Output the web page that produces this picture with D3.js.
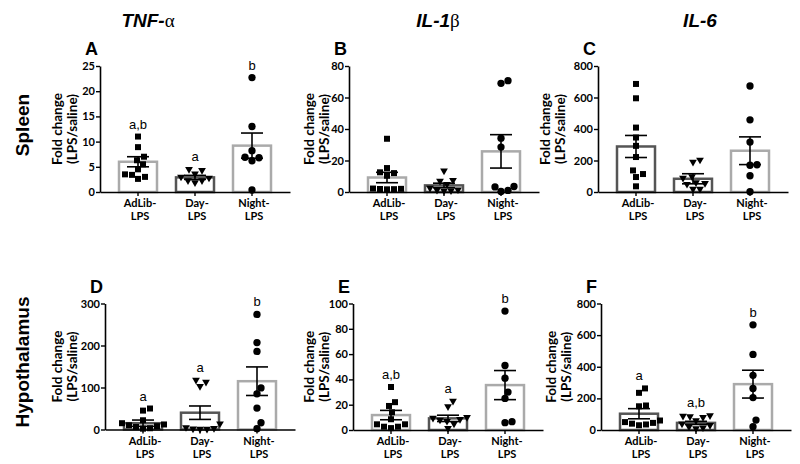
<!DOCTYPE html>
<meta charset="utf-8">
<style>
body { margin: 0; background: #fff; }
text { fill: #000; }
</style>
<body>
<script src="https://cdn.jsdelivr.net/npm/d3@7"></script>
<script>
var width = 800,
    height = 464;

var groups = ["AdLib-LPS", "Day-LPS", "Night-LPS"];
var columnTitles = [["TNF-", "\u03b1"], ["IL-1", "\u03b2"], ["IL-6", ""]];
var rowTitles = ["Spleen", "Hypothalamus"];

// panel A - TNF-a spleen
var pointsA = [[11.0, 8.9, 7.0, 6.3, 5.5, 4.5, 3.5, 3.4, 3.0, 2.6], [4.5, 4.3, 3.6, 3.0, 2.8, 2.3, 2.3, 1.9], [22.7, 13.0, 8.2, 6.9, 6.8, 6.2, 0.4]];
var meanA = [6.0, 2.9, 9.2];
var semA = [1.0, 0.4, 2.5];
var sigA = ["a,b", "a", "b"];
var ticksA = [0, 5, 10, 15, 20, 25];

// panel B - IL-1b spleen
var pointsB = [[33.8, 15.2, 12.5, 12.0, 10.3, 2.2, 2.0, 1.9, 1.8, 1.7], [13.5, 7.5, 7.0, 5.0, 2.5, 1.5, 1.2, 1.0, 0.8], [70.7, 69.0, 34.2, 28.5, 3.5, 3.2, 1.0, 0.3]];
var meanB = [9.2, 4.2, 25.8];
var semB = [3.3, 1.4, 10.6];
var sigB = ["", "", ""];
var ticksB = [0, 20, 40, 60, 80];

// panel C - IL-6 spleen
var pointsC = [[686, 595, 409, 346, 293, 222, 137, 114, 95, 36], [204, 190, 99, 89, 60, 55, 50, 19, 19], [673, 458, 317, 173, 170, 103, 2]];
var meanC = [289, 84, 262];
var semC = [70, 32, 88];
var sigC = ["", "", ""];
var ticksC = [0, 200, 400, 600, 800];

// panel D - TNF-a hypothalamus
var pointsD = [[50, 45, 22, 15, 12, 10, 8, 6, 3, 2], [118, 113, 103, 14, 5, 3, 2, 1, 1], [274, 207, 186, 99, 85, 51, 16, 2]];
var meanD = [15, 40, 115];
var semD = [7.5, 16, 34];
var sigD = ["a", "a", "b"];
var ticksD = [0, 100, 200, 300];

// panel E - IL-1b hypothalamus
var pointsE = [[34, 22, 19, 14, 8.5, 4.5, 4.5, 2.6, 2.6, 1.5], [23, 18.5, 10, 9.5, 8.5, 8, 7, 5, 1.3], [94, 51, 41, 30, 25, 6.6, 5.8]];
var meanE = [11.8, 9.2, 35.5];
var semE = [3.7, 2.5, 11.5];
var sigE = ["a,b", "a", "b"];
var ticksE = [0, 20, 40, 60, 80, 100];

// panel F - IL-6 hypothalamus
var pointsF = [[263, 235, 155, 150, 60, 50, 45, 40, 35, 30], [92, 88, 85, 80, 60, 40, 30, 20, 15, 10], [665, 478, 346, 263, 205, 63, 21]];
var meanF = [103, 45, 290];
var semF = [32, 10, 88];
var sigF = ["a", "a,b", "b"];
var ticksF = [0, 200, 400, 600, 800];

// layout
var panels = [
  {label: "A", pts: pointsA, mean: meanA, sem: semA, sig: sigA, ticks: ticksA, ax: 100, top: 66, bottom: 192, titleX: 58, edge: ["#aaa", "#555", "#aaa"]},
  {label: "B", pts: pointsB, mean: meanB, sem: semB, sig: sigB, ticks: ticksB, ax: 349, top: 66, bottom: 192, titleX: 310, edge: ["#aaa", "#555", "#aaa"]},
  {label: "C", pts: pointsC, mean: meanC, sem: semC, sig: sigC, ticks: ticksC, ax: 598, top: 66, bottom: 192, titleX: 546, edge: ["#555", "#555", "#aaa"]},
  {label: "D", pts: pointsD, mean: meanD, sem: semD, sig: sigD, ticks: ticksD, ax: 105, top: 303.5, bottom: 429.5, titleX: 58, edge: ["#555", "#555", "#aaa"]},
  {label: "E", pts: pointsE, mean: meanE, sem: semE, sig: sigE, ticks: ticksE, ax: 353, top: 303.5, bottom: 430, titleX: 310, edge: ["#aaa", "#555", "#aaa"]},
  {label: "F", pts: pointsF, mean: meanF, sem: semF, sig: sigF, ticks: ticksF, ax: 601, top: 303.5, bottom: 430, titleX: 552, edge: ["#555", "#555", "#aaa"]}
];
var symbols = [
  d3.symbol().type(d3.symbolSquare).size(36),
  d3.symbol().type(d3.symbolTriangle).size(26),
  d3.symbol().type(d3.symbolCircle).size(42)
];

var svg = d3.select("body").append("svg")
    .attr("width", width)
    .attr("height", height);

var headX = [148, 438, 700];
columnTitles.forEach(function(t, i) {
  var tx = svg.append("text")
      .attr("x", headX[i]).attr("y", 27)
      .attr("text-anchor", "middle")
      .style("font-family", "Liberation Sans, Arial")
      .style("font-size", "19px").style("font-weight", "bold").style("font-style", "italic");
  tx.append("tspan").text(t[0]);
  if (t[1]) tx.append("tspan").text(t[1])
      .style("font-family", "Liberation Serif, serif").style("font-weight", "normal").style("font-style", "normal");
});

var rowY = [125, 362];
rowTitles.forEach(function(t, i) {
  svg.append("text")
      .attr("transform", "translate(29," + rowY[i] + ") rotate(-90)")
      .attr("text-anchor", "middle")
      .style("font-family", "Liberation Sans, Arial")
      .style("font-size", "19px").style("font-weight", "bold")
      .text(t);
});

// simple beeswarm offsets so markers do not overlap
function swarm(ys, d) {
  var placed = [], xs = [];
  ys.map(function(y, i) { return i; })
    .sort(function(a, b) { return ys[b] - ys[a]; })
    .forEach(function(i) {
      for (var k = 0; k < 60; k++) {
        var off = (k % 2 ? 1 : -1) * Math.ceil(k / 2);
        var hit = placed.some(function(p) {
          var dx = p[0] - off, dy = p[1] - ys[i];
          return dx * dx + dy * dy < d * d;
        });
        if (!hit) break;
      }
      placed.push([off, ys[i]]);
      xs[i] = off;
    });
  return xs;
}

panels.forEach(function(p) {
  var g = svg.append("g");
  var y = d3.scaleLinear()
      .domain([0, p.ticks[p.ticks.length - 1]])
      .range([p.bottom, p.top]);
  var x = d3.scaleBand()
      .domain(groups)
      .range([p.ax, p.ax + 190])
      .paddingInner(1 / 3)
      .paddingOuter(1 / 3);
  var bw = x.bandwidth();

  g.append("text")
      .attr("x", p.ax - 15).attr("y", p.top - 11)
      .style("font-family", "Liberation Sans, Arial")
      .style("font-size", "18px").style("font-weight", "bold")
      .text(p.label);

  g.append("text")
      .attr("transform", "translate(" + p.titleX + "," + (p.top + p.bottom) / 2 + ") rotate(-90)")
      .attr("text-anchor", "middle")
      .style("font-family", "Lato, sans-serif")
      .style("font-size", "13.5px").style("font-weight", "bold")
      .selectAll("tspan")
      .data(["Fold change", "(LPS/saline)"])
      .enter().append("tspan")
      .attr("x", 0).attr("dy", function(d, i) { return i ? 15 : 4; })
      .text(function(d) { return d; });

  // bars
  g.selectAll(".bar")
      .data(groups)
      .enter().append("rect")
      .attr("x", function(d) { return x(d); })
      .attr("y", function(d, i) { return y(p.mean[i]); })
      .attr("width", bw)
      .attr("height", function(d, i) { return y(0) - y(p.mean[i]); })
      .attr("fill", "#fff")
      .attr("stroke", function(d, i) { return p.edge[i]; })
      .attr("stroke-width", 2.5);

  // axes
  var ya = g.append("g")
      .attr("transform", "translate(" + p.ax + ",0)")
      .call(d3.axisLeft(y).tickValues(p.ticks).tickSize(4).tickSizeOuter(0));
  var xa = g.append("g")
      .attr("transform", "translate(0," + p.bottom + ")")
      .call(d3.axisBottom(x).tickSize(4).tickSizeOuter(0).tickFormat(""));
  [ya, xa].forEach(function(a) {
    a.select(".domain").attr("stroke-width", 1.6);
    a.selectAll(".tick line").attr("stroke-width", 1.4);
  });
  ya.selectAll("text")
      .style("font-family", "Lato, sans-serif")
      .style("font-size", "11px").style("font-weight", "bold")
      .attr("x", -5);

  groups.forEach(function(gname) {
    var parts = gname.split("-");
    g.append("text")
        .attr("x", x(gname) + bw / 2 + 2).attr("y", p.bottom + 15)
        .attr("text-anchor", "middle")
        .style("font-family", "Lato, sans-serif")
        .style("font-size", "11px").style("font-weight", "bold")
        .selectAll("tspan")
        .data([parts[0] + "-", parts[1]])
        .enter().append("tspan")
        .attr("x", x(gname) + bw / 2 + 2)
        .attr("dy", function(d, i) { return i ? 13 : 0; })
        .text(function(d) { return d; });
  });

  // error bars
  groups.forEach(function(gname, i) {
    var cx = x(gname) + bw / 2,
        hi = y(p.mean[i] + p.sem[i]),
        lo = y(Math.max(0, p.mean[i] - p.sem[i]));
    var eb = g.append("g").attr("stroke", "#000").attr("stroke-width", 1.6);
    eb.append("line").attr("x1", cx).attr("x2", cx).attr("y1", hi).attr("y2", lo);
    eb.append("line").attr("x1", cx - 11).attr("x2", cx + 11).attr("y1", hi).attr("y2", hi);
    eb.append("line").attr("x1", cx - 11).attr("x2", cx + 11).attr("y1", lo).attr("y2", lo);
  });

  // individual points
  groups.forEach(function(gname, i) {
    var cx = x(gname) + bw / 2;
    var ys = p.pts[i].map(function(v) { return y(v); });
    var xs = swarm(ys, 7);
    g.selectAll(".pt" + i)
        .data(p.pts[i])
        .enter().append("path")
        .attr("d", symbols[i])
        .attr("transform", function(d, j) {
          return "translate(" + (cx + xs[j]) + "," + ys[j] + ")" + (i === 1 ? " rotate(180)" : "");
        })
        .attr("fill", "#000");

    if (p.sig[i]) {
      g.append("text")
          .attr("x", cx).attr("y", y(d3.max(p.pts[i])) - 8)
          .attr("text-anchor", "middle")
          .style("font-family", "Liberation Sans, Arial")
          .style("font-size", "13px")
          .text(p.sig[i]);
    }
  });
});
</script>
</body>
